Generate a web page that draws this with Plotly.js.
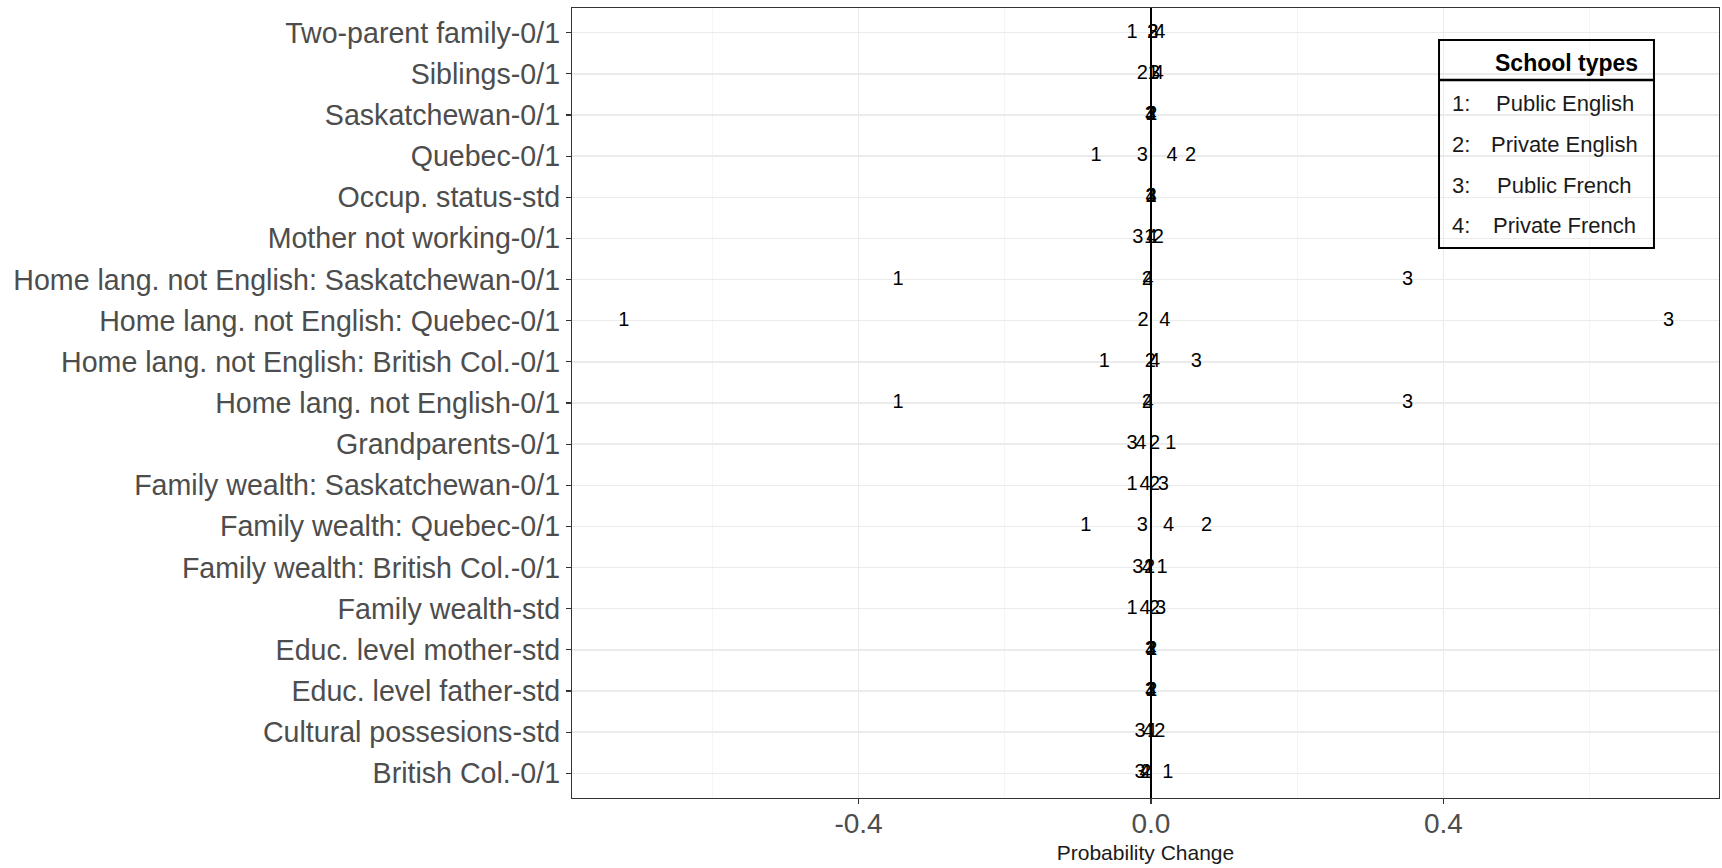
<!DOCTYPE html>
<html>
<head>
<meta charset="utf-8">
<script src="https://cdn.plot.ly/plotly-3.0.1.min.js"></script>
<style>
html, body { margin: 0; padding: 0; background: #fff; }
#chart { width: 1722px; height: 868px; }
</style>
</head>
<body>
<div id="chart"></div>
<script>
// Categories, bottom to top
const categories = [
  "British Col.-0/1",
  "Cultural possesions-std",
  "Educ. level father-std",
  "Educ. level mother-std",
  "Family wealth-std",
  "Family wealth: British Col.-0/1",
  "Family wealth: Quebec-0/1",
  "Family wealth: Saskatchewan-0/1",
  "Grandparents-0/1",
  "Home lang. not English-0/1",
  "Home lang. not English: British Col.-0/1",
  "Home lang. not English: Quebec-0/1",
  "Home lang. not English: Saskatchewan-0/1",
  "Mother not working-0/1",
  "Occup. status-std",
  "Quebec-0/1",
  "Saskatchewan-0/1",
  "Siblings-0/1",
  "Two-parent family-0/1"
];

// Probability change per school type (same order as categories)
const publicEnglish = [0.023, 0.002, 0.000, 0.000, -0.026, 0.015, -0.089, -0.026, 0.027, -0.346, -0.064, -0.721, -0.346, -0.002, 0.000, -0.075, 0.000, 0.003, -0.026];
const privateEnglish = [-0.007, 0.012, 0.001, 0.001, 0.005, -0.002, 0.076, 0.005, 0.005, -0.005, -0.001, -0.011, -0.005, 0.010, 0.000, 0.054, 0.001, -0.012, 0.002];
const publicFrench = [-0.015, -0.015, -0.001, -0.001, 0.013, -0.018, -0.012, 0.017, -0.026, 0.351, 0.062, 0.708, 0.351, -0.018, 0.000, -0.012, -0.001, 0.005, 0.003];
const privateFrench = [-0.008, -0.004, 0.000, 0.000, -0.008, -0.005, 0.024, -0.008, -0.014, -0.004, 0.005, 0.019, -0.004, 0.001, 0.000, 0.029, 0.000, 0.010, 0.012];

const seriesValues = [publicEnglish, privateEnglish, publicFrench, privateFrench];
const seriesCodes = ["1", "2", "3", "4"];
const legendTitle = "School types";
const legendCodes = ["1:", "2:", "3:", "4:"];
const legendNames = ["Public English", "Private English", "Public French", "Private French"];

const xTickVals = [-0.4, 0, 0.4];
const xTickText = ["-0.4", "0.0", "0.4"];
const xTitle = "Probability Change";

const FONT = "'Liberation Sans', Arial, sans-serif";

const traces = seriesValues.map((vals, i) => ({
  type: "scatter",
  mode: "text",
  x: vals,
  y: categories,
  text: vals.map(() => seriesCodes[i]),
  textposition: "middle center",
  textfont: { family: FONT, size: 20, color: "#000000" },
  name: legendNames[i],
  showlegend: false,
  hoverinfo: "x+y+name"
}));

// Legend table (positions in paper coordinates)
const boxX0 = 0.7559, boxX1 = 0.9433, boxTop = 0.9595, boxBottom = 0.6962, sepY = 0.9089;
const rowY = [0.8785, 0.8266, 0.7759, 0.7241];

const shapes = [
  { type: "rect", xref: "paper", yref: "paper", x0: boxX0, x1: boxX1, y0: boxBottom, y1: boxTop,
    line: { color: "#000000", width: 2 }, fillcolor: "rgba(0,0,0,0)" },
  { type: "line", xref: "paper", yref: "paper", x0: boxX0, x1: boxX1, y0: sepY, y1: sepY,
    line: { color: "#000000", width: 2.5 } }
];

const annotations = [
  { xref: "paper", yref: "paper", x: 0.9311, y: 0.9304, xanchor: "right", yanchor: "middle",
    text: "<b>" + legendTitle + "</b>", showarrow: false,
    font: { family: FONT, size: 23, color: "#000000" } }
];
legendCodes.forEach((c, i) => {
  annotations.push({ xref: "paper", yref: "paper", x: 0.7655, y: rowY[i], xanchor: "left", yanchor: "middle",
    text: c, showarrow: false, font: { family: FONT, size: 22, color: "#1a1a1a" } });
  annotations.push({ xref: "paper", yref: "paper", x: 0.8657, y: rowY[i], xanchor: "center", yanchor: "middle",
    text: legendNames[i], showarrow: false, font: { family: FONT, size: 22, color: "#1a1a1a" } });
});

const layout = {
  width: 1722,
  height: 868,
  margin: { l: 572, r: 3, t: 8, b: 70, pad: 0 },
  paper_bgcolor: "#ffffff",
  plot_bgcolor: "#ffffff",
  showlegend: false,
  font: { family: FONT },
  xaxis: {
    range: [-0.792, 0.777],
    tickmode: "array",
    tickvals: xTickVals,
    ticktext: xTickText,
    ticks: "outside",
    ticklen: 5,
    tickwidth: 1.2,
    tickcolor: "#333333",
    ticklabelstandoff: -5,
    tickfont: { family: FONT, size: 28, color: "#4d4d4d" },
    showgrid: true,
    gridcolor: "#ebebeb",
    gridwidth: 1.4,
    minor: { dtick: 0.2, tick0: 0, showgrid: true, gridcolor: "#f2f2f2", gridwidth: 0.8, ticklen: 0 },
    zeroline: true,
    zerolinecolor: "#000000",
    zerolinewidth: 1.6,
    showline: true,
    mirror: true,
    linecolor: "#333333",
    linewidth: 1.2,
    title: { text: xTitle, font: { family: FONT, size: 21, color: "#1a1a1a" }, standoff: 7 },
    fixedrange: true
  },
  yaxis: {
    type: "category",
    categoryorder: "array",
    categoryarray: categories,
    range: [-0.6, categories.length - 0.4],
    ticks: "outside",
    ticklen: 5,
    tickwidth: 1.2,
    tickcolor: "#333333",
    tickfont: { family: FONT, size: 28.6, color: "#4d4d4d" },
    showgrid: true,
    gridcolor: "#ebebeb",
    gridwidth: 1.4,
    zeroline: false,
    showline: true,
    mirror: true,
    linecolor: "#333333",
    linewidth: 1.2,
    fixedrange: true
  },
  shapes: shapes,
  annotations: annotations
};

Plotly.newPlot("chart", traces, layout, { displayModeBar: false, staticPlot: true });
</script>
</body>
</html>
